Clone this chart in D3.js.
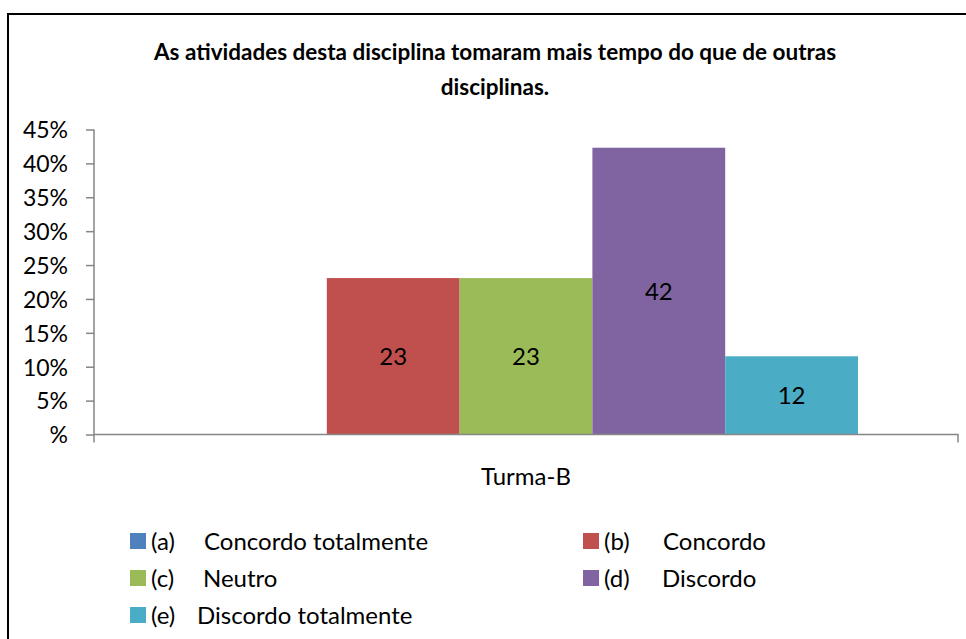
<!DOCTYPE html>
<html><head><meta charset="utf-8">
<script src="https://cdn.jsdelivr.net/npm/d3@7"></script>
<style>
html,body{margin:0;padding:0;background:#fff;}
svg text{font-family:Lato,"Open Sans",sans-serif;}
</style></head>
<body><svg id="c" width="966" height="639"></svg>
<script>
const titleLines = ["As atividades desta disciplina tomaram mais tempo do que de outras", "disciplinas."];
const category = "Turma-B";
const seriesKeys = ["(a)", "(b)", "(c)", "(d)", "(e)"];
const seriesNames = ["Concordo totalmente", "Concordo", "Neutro", "Discordo", "Discordo totalmente"];
const seriesValues = [0, 23.08, 23.08, 42.31, 11.54];
const seriesLabels = ["", "23", "23", "42", "12"];
const seriesColors = ["#4f81bd", "#c0504d", "#9bbb59", "#8064a2", "#4bacc6"];
const yTicks = [0, 5, 10, 15, 20, 25, 30, 35, 40, 45];
const yTickLabels = ["%", "5%", "10%", "15%", "20%", "25%", "30%", "35%", "40%", "45%"];

const svg = d3.select("#c");
svg.append("rect").attr("x", 8).attr("y", 14).attr("width", 1100).attr("height", 1000)
  .attr("fill", "#fff").attr("stroke", "#000").attr("stroke-width", 2);

svg.selectAll("text.title").data(titleLines).join("text").attr("class", "title")
  .attr("x", 495).attr("y", (d, i) => 60 + i * 35)
  .attr("text-anchor", "middle").attr("font-weight", "bold").attr("font-size", 22.5)
  .attr("letter-spacing", 0)
  .text(d => d);

const plot = {left: 94, right: 958, top: 129.5, bottom: 434.5};
const y = d3.scaleLinear().domain([0, 45]).range([plot.bottom, plot.top]);
const x0 = d3.scaleBand().domain([category]).range([plot.left, plot.right]).paddingInner(0).paddingOuter(0.1506);
const x1 = d3.scaleBand().domain(seriesKeys).range([0, x0.bandwidth()]).padding(0);

const axisColor = "#868686";
const yAxis = svg.append("g").attr("transform", `translate(${plot.left},0)`)
  .call(d3.axisLeft(y).tickValues(yTicks).tickFormat((d, i) => yTickLabels[i]).tickSize(8).tickPadding(18));
yAxis.select(".domain").attr("stroke", axisColor).attr("stroke-width", 1.5).attr("d", `M0,${plot.top}V${plot.bottom}`);
yAxis.selectAll(".tick line").attr("stroke", axisColor).attr("stroke-width", 1.5);
yAxis.selectAll(".tick text").attr("font-size", 23).attr("fill", "#000").attr("dy", "0.36em")
  .attr("font-family", "Lato,sans-serif");

const bars = svg.append("g");
const xb = x0(category);
bars.selectAll("rect").data(seriesValues).join("rect")
  .attr("x", (d, i) => xb + x1(seriesKeys[i]))
  .attr("width", x1.bandwidth())
  .attr("y", d => y(d))
  .attr("height", d => y(0) - y(d))
  .attr("fill", (d, i) => seriesColors[i]);

bars.selectAll("text").data(seriesValues).join("text")
  .attr("x", (d, i) => xb + x1(seriesKeys[i]) + x1.bandwidth() / 2)
  .attr("y", d => (y(d) + y(0)) / 2)
  .attr("dy", "0.36em").attr("text-anchor", "middle").attr("font-size", 24)
  .text((d, i) => seriesLabels[i]);

const xAxis = svg.append("g").attr("transform", `translate(0,${plot.bottom})`)
  .call(d3.axisBottom(x0).tickSize(0).tickPadding(40));
xAxis.select(".domain").attr("stroke", axisColor).attr("stroke-width", 1.5)
  .attr("d", `M${plot.left},8V0H${plot.right}V8`);
xAxis.selectAll(".tick text").attr("font-size", 24).attr("fill", "#000").attr("dy", "0.45em")
  .attr("font-family", "Lato,sans-serif");

const legendPos = [[130, 541], [583, 541], [130, 578], [583, 578], [130, 615]];
const nameOffset = [74, 80, 73, 79, 67];
const leg = svg.append("g");
const items = leg.selectAll("g").data(seriesKeys).join("g")
  .attr("transform", (d, i) => `translate(${legendPos[i][0]},${legendPos[i][1]})`);
items.append("rect").attr("x", 0).attr("y", -8).attr("width", 16).attr("height", 16)
  .attr("fill", (d, i) => seriesColors[i]);
items.append("text").attr("x", 21).attr("dy", "0.36em").attr("font-size", 24).text(d => d);
items.append("text").attr("x", (d, i) => nameOffset[i]).attr("dy", "0.36em").attr("font-size", 24)
  .text((d, i) => seriesNames[i]);
</script></body></html>
